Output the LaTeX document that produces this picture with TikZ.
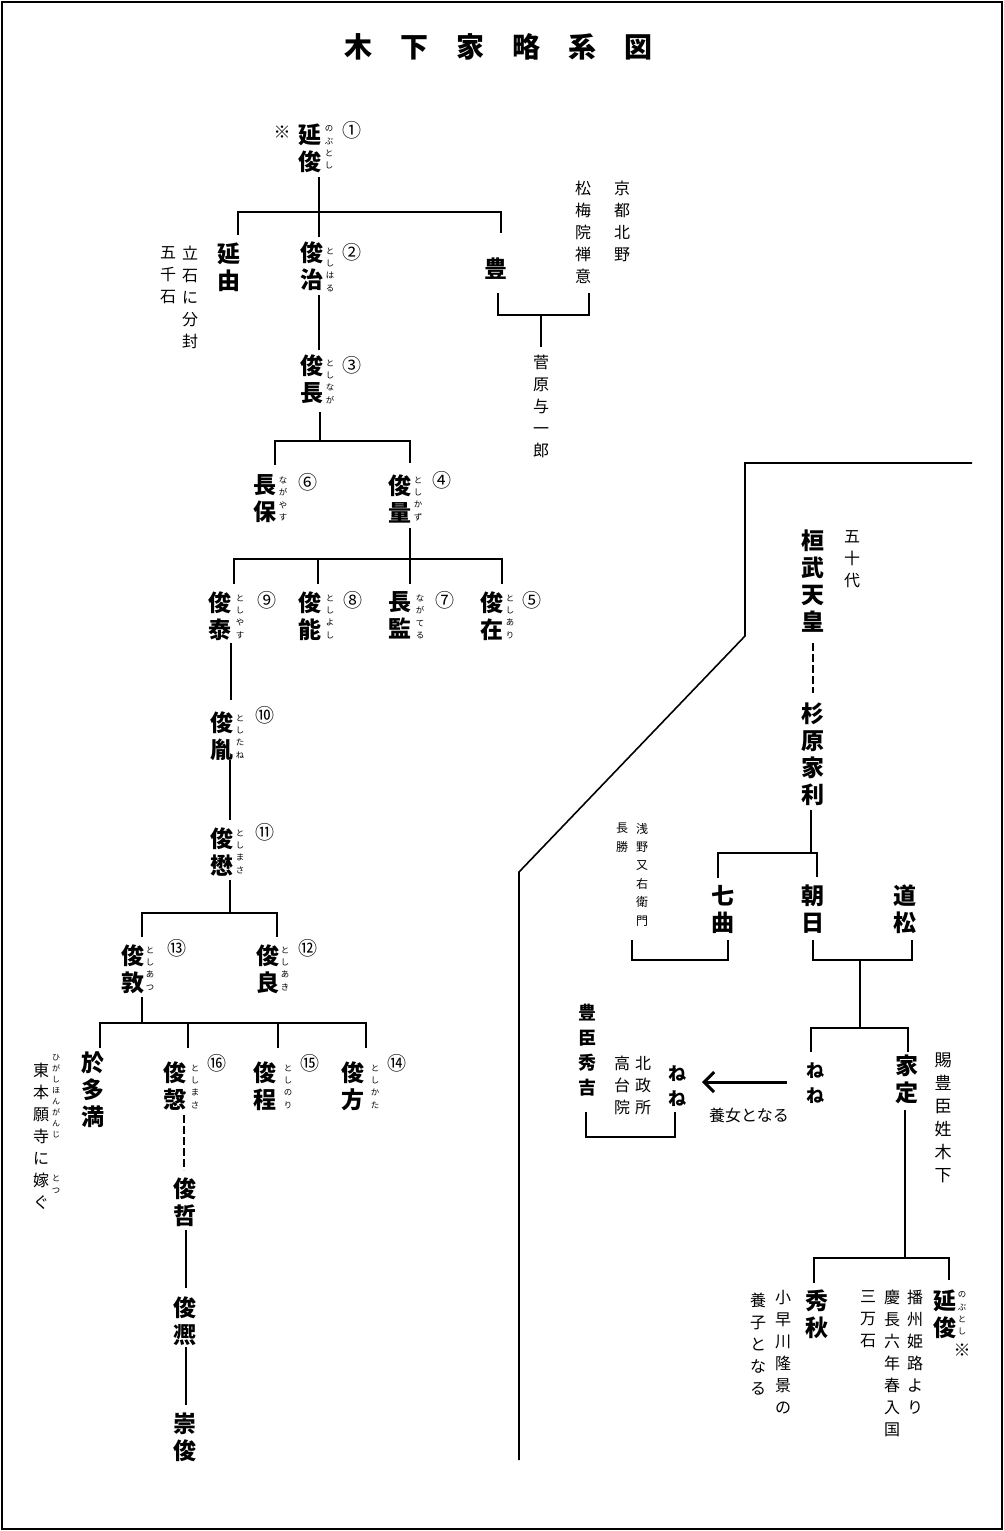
\documentclass[tikz,border=0pt]{standalone}
\usepackage{fontspec}
\newfontfamily\cjk{Noto Sans CJK JP}
\usetikzlibrary{arrows.meta}
\tikzset{
  nm/.style={font=\cjk\bfseries\fontsize{11.5}{13.5}\selectfont, align=center, inner sep=0pt, anchor=north, yshift=5.2pt},
  md/.style={font=\cjk\bfseries\fontsize{9}{12.5}\selectfont, align=center, inner sep=0pt, anchor=north, yshift=4pt},
  nt/.style={font=\cjk\fontsize{8}{11}\selectfont, align=center, inner sep=0pt, anchor=north, yshift=3.6pt},
  sm/.style={font=\cjk\fontsize{6}{9.2}\selectfont, align=center, inner sep=0pt, anchor=north, yshift=2.7pt},
  fu/.style={font=\cjk\fontsize{4.2}{6.2}\selectfont, align=center, inner sep=0pt, anchor=north, yshift=1.9pt},
  num/.style={font=\cjk\fontsize{9.5}{10}\selectfont, inner sep=0pt},
  sym/.style={font=\cjk\fontsize{8.5}{8.5}\selectfont, inner sep=0pt},
  ln/.style={line width=0.8pt},
  dln/.style={line width=0.8pt, dash pattern=on 4pt off 1.5pt},
}
\begin{document}
\begin{tikzpicture}[x=0.5pt,y=-0.5pt]
\useasboundingbox (0,0) rectangle (1004,1531);
\draw[line width=0.8pt] (2,2) rectangle (1002,1529);
% title
\node[font=\cjk\bfseries\fontsize{14}{14}\selectfont, inner sep=0pt] (title) at (498,47) {木　下　家　略　系　図};
% divider
\draw[ln] (972,463) -- (745,463) -- (745,636) -- (519,872) -- (519,1460);

% ===== left tree =====
\node[sym] (kome1) at (282,132) {※};
\node[nm] (n1) at (310,134) {延\\俊};
\node[fu] (f1) at (329,129) {の\\ぶ\\と\\し};
\node[num] (o1) at (352,130) {①};

\node[nm] (nobuyoshi) at (229,253) {延\\由};
\node[nt] (tateishi) at (190,253) {立\\石\\に\\分\\封};
\node[nt] (gosen) at (168,253) {五\\千\\石};
\node[nm] (n2) at (312,252) {俊\\治};
\node[fu] (f2) at (330,251) {と\\し\\は\\る};
\node[num] (o2) at (352,252) {②};
\node[nm] (toyo) at (496,268) {豊};
\node[nt] (kitano) at (622,188) {京\\都\\北\\野};
\node[nt] (shobai) at (583,188) {松\\梅\\院\\禅\\意};
\node[nt] (sugawara) at (541,362) {菅\\原\\与\\一\\郎};

\node[nm] (n3) at (312,365) {俊\\長};
\node[fu] (f3) at (330,363) {と\\し\\な\\が};
\node[num] (o3) at (352,365) {③};

\node[nm] (n6) at (265,485) {長\\保};
\node[fu] (f6) at (283,480) {な\\が\\や\\す};
\node[num] (o6) at (308,482) {⑥};
\node[nm] (n4) at (400,485) {俊\\量};
\node[fu] (f4) at (418,480) {と\\し\\か\\ず};
\node[num] (o4) at (442,480) {④};

\node[nm] (n9) at (220,602) {俊\\泰};
\node[fu] (f9) at (240,598) {と\\し\\や\\す};
\node[num] (o9) at (267,600) {⑨};
\node[nm] (n8) at (310,602) {俊\\能};
\node[fu] (f8) at (330,598) {と\\し\\よ\\し};
\node[num] (o8) at (353,600) {⑧};
\node[nm] (n7) at (400,602) {長\\監};
\node[fu] (f7) at (420,598) {な\\が\\て\\る};
\node[num] (o7) at (445,600) {⑦};
\node[nm] (n5) at (492,602) {俊\\在};
\node[fu] (f5) at (510,598) {と\\し\\あ\\り};
\node[num] (o5) at (532,600) {⑤};

\node[nm] (n10) at (222,722) {俊\\胤};
\node[fu] (f10) at (240,718) {と\\し\\た\\ね};
\node[num] (o10) at (265,715) {⑩};
\node[nm] (n11) at (222,838) {俊\\懋};
\node[fu] (f11) at (240,833) {と\\し\\ま\\さ};
\node[num] (o11) at (265,832) {⑪};

\node[nm] (n13) at (133,955) {俊\\敦};
\node[fu] (f13) at (150,950) {と\\し\\あ\\つ};
\node[num] (o13) at (177,948) {⑬};
\node[nm] (n12) at (268,955) {俊\\良};
\node[fu] (f12) at (285,950) {と\\し\\あ\\き};
\node[num] (o12) at (308,948) {⑫};

\node[nm] (otama) at (93,1062) {於\\多\\満};
\node[nt] (higashi) at (41,1070) {東\\本\\願\\寺\\に\\嫁\\ぐ};
\node[fu, font=\cjk\fontsize{4}{5.5}\selectfont] (fh) at (56,1058) {ひ\\が\\し\\ほ\\ん\\が\\ん\\じ};
\node[fu] (ft) at (56,1178) {と\\つ};
\node[nm] (n16) at (175,1072) {俊\\愨};
\node[fu] (f16) at (195,1068) {と\\し\\ま\\さ};
\node[num] (o16) at (217,1063) {⑯};
\node[nm] (n15) at (265,1072) {俊\\程};
\node[fu] (f15) at (288,1068) {と\\し\\の\\り};
\node[num] (o15) at (310,1063) {⑮};
\node[nm] (n14) at (353,1072) {俊\\方};
\node[fu] (f14) at (375,1068) {と\\し\\か\\た};
\node[num] (o14) at (397,1063) {⑭};
\node[nm] (tetsu) at (185,1188) {俊\\哲};
\node[nm] (hiro) at (185,1307) {俊\\凞};
\node[nm] (taka) at (185,1423) {崇\\俊};

% left tree lines
\coordinate (a0) at (319,177); \coordinate (a1) at (238,212); \coordinate (a2) at (319,212); \coordinate (a3) at (501,212);
\coordinate (a1d) at (238,235); \coordinate (a2d) at (319,237); \coordinate (a3d) at (501,233);
\draw[ln] (a0) -- (a2d);
\draw[ln] (a1d) -- (a1) -- (a3) -- (a3d);
\coordinate (t1) at (498,293); \coordinate (t2) at (498,315); \coordinate (t3) at (589,315); \coordinate (t4) at (589,293);
\coordinate (t5) at (541,315); \coordinate (t6) at (541,347);
\draw[ln] (t1) -- (t2) -- (t3) -- (t4);
\draw[ln] (t5) -- (t6);
\coordinate (b0) at (319,295); \coordinate (b1) at (319,350);
\draw[ln] (b0) -- (b1);
\coordinate (c0) at (320,412); \coordinate (c1) at (320,441); \coordinate (c2) at (275,441); \coordinate (c3) at (410,441);
\coordinate (c2d) at (275,465); \coordinate (c3d) at (410,463);
\draw[ln] (c0) -- (c1);
\draw[ln] (c2d) -- (c2) -- (c3) -- (c3d);
\coordinate (d0) at (410,528); \coordinate (d1) at (410,559); \coordinate (d2) at (234,559); \coordinate (d3) at (318,559); \coordinate (d4) at (502,559);
\coordinate (d1d) at (410,584); \coordinate (d2d) at (234,584); \coordinate (d3d) at (318,584); \coordinate (d4d) at (502,584);
\draw[ln] (d0) -- (d1d);
\draw[ln] (d2d) -- (d2) -- (d4) -- (d4d);
\draw[ln] (d3) -- (d3d);
\coordinate (e0) at (231,643); \coordinate (e1) at (231,700);
\draw[ln] (e0) -- (e1);
\coordinate (e2) at (230,760); \coordinate (e3) at (230,820);
\draw[ln] (e2) -- (e3);
\coordinate (g0) at (230,880); \coordinate (g1) at (230,913); \coordinate (g2) at (142,913); \coordinate (g3) at (277,913);
\coordinate (g2d) at (142,937); \coordinate (g3d) at (277,937);
\draw[ln] (g0) -- (g1);
\draw[ln] (g2d) -- (g2) -- (g3) -- (g3d);
\coordinate (h0) at (142,997); \coordinate (h1) at (142,1023); \coordinate (h2) at (100,1023); \coordinate (h3) at (188,1023); \coordinate (h4) at (278,1023); \coordinate (h5) at (366,1023);
\coordinate (h2d) at (100,1048); \coordinate (h3d) at (188,1048); \coordinate (h4d) at (278,1048); \coordinate (h5d) at (366,1048);
\draw[ln] (h0) -- (h1);
\draw[ln] (h2d) -- (h2) -- (h5) -- (h5d);
\draw[ln] (h3) -- (h3d); \draw[ln] (h4) -- (h4d);
\coordinate (k0) at (184,1115); \coordinate (k1) at (184,1170);
\draw[dln] (k0) -- (k1);
\coordinate (k2) at (186,1230); \coordinate (k3) at (186,1288);
\draw[ln] (k2) -- (k3);
\coordinate (k4) at (186,1347); \coordinate (k5) at (186,1405);
\draw[ln] (k4) -- (k5);

% ===== right tree =====
\node[nt] (gojudai) at (852,537) {五\\十\\代};
\node[nm] (kanmu) at (813,540) {桓\\武\\天\\皇};
\node[nm] (ietoshi) at (813,713) {杉\\原\\家\\利};
\node[nm] (nanamagari) at (723,895) {七\\曲};
\node[nm] (asahi) at (813,895) {朝\\日};
\node[nm] (domatsu) at (905,895) {道\\松};
\node[sm] (asano) at (642,828) {浅\\野\\又\\右\\衛\\門};
\node[sm] (nagakatsu) at (622,828) {長\\勝};
\node[md] (nene1) at (815,1070) {ね\\ね};
\node[nm] (iesada) at (907,1065) {家\\定};
\node[nt, font=\cjk\fontsize{8.5}{11.5}\selectfont] (tamawaru) at (943,1060) {賜\\豊\\臣\\姓\\木\\下};
\node[md] (nene2) at (677,1073) {ね\\ね};
\node[nt] (kitanoman) at (643,1063) {北\\政\\所};
\node[nt] (kodaiin) at (622,1063) {高\\台\\院};
\node[md] (hideyoshi) at (587,1012) {豊\\臣\\秀\\吉};
\node[nt, anchor=center, yshift=0pt] (yojo) at (749,1123) {養女となる};
\node[nm] (hideaki) at (817,1300) {秀\\秋};
\node[nt] (kobayakawa) at (783,1297) {小\\早\\川\\隆\\景\\の};
\node[nt] (yoshi) at (758,1300) {養\\子\\と\\な\\る};
\node[nm] (n1b) at (945,1300) {延\\俊};
\node[fu] (f1b) at (962,1295) {の\\ぶ\\と\\し};
\node[sym] (kome2) at (962,1350) {※};
\node[nt] (banshu) at (915,1297) {播\\州\\姫\\路\\よ\\り};
\node[nt] (keicho) at (892,1297) {慶\\長\\六\\年\\春\\入\\国};
\node[nt] (sanman) at (868,1297) {三\\万\\石};

\coordinate (r0) at (813,643); \coordinate (r1) at (813,693);
\draw[dln] (r0) -- (r1);
\coordinate (s0) at (811,810); \coordinate (s1) at (811,853); \coordinate (s2) at (718,853); \coordinate (s3) at (817,853);
\coordinate (s2d) at (718,878); \coordinate (s3d) at (817,877);
\draw[ln] (s0) -- (s1);
\draw[ln] (s2d) -- (s2) -- (s3) -- (s3d);
\coordinate (u1) at (632,940); \coordinate (u2) at (632,960); \coordinate (u3) at (728,960); \coordinate (u4) at (728,940);
\draw[ln] (u1) -- (u2) -- (u3) -- (u4);
\coordinate (v1) at (813,940); \coordinate (v2) at (813,960); \coordinate (v3) at (912,960); \coordinate (v4) at (912,940);
\draw[ln] (v1) -- (v2) -- (v3) -- (v4);
\coordinate (v5) at (860,960); \coordinate (v6) at (860,1028);
\draw[ln] (v5) -- (v6);
\coordinate (w1) at (811,1052); \coordinate (w2) at (811,1028); \coordinate (w3) at (908,1028); \coordinate (w4) at (908,1052);
\draw[ln] (w1) -- (w2) -- (w3) -- (w4);
\coordinate (ar0) at (787,1082); \coordinate (ar1) at (702,1082);
\draw[line width=1.5pt, -{Straight Barb[length=5pt,width=10pt]}] (ar0) -- (ar1);
\coordinate (x1) at (586,1112); \coordinate (x2) at (586,1137); \coordinate (x3) at (675,1137); \coordinate (x4) at (675,1112);
\draw[ln] (x1) -- (x2) -- (x3) -- (x4);
\coordinate (y0) at (905,1110); \coordinate (y1) at (905,1258); \coordinate (y2) at (814,1258); \coordinate (y3) at (949,1258);
\coordinate (y2d) at (814,1283); \coordinate (y3d) at (949,1280);
\draw[ln] (y0) -- (y1);
\draw[ln] (y2d) -- (y2) -- (y3) -- (y3d);
\end{tikzpicture}
\end{document}
